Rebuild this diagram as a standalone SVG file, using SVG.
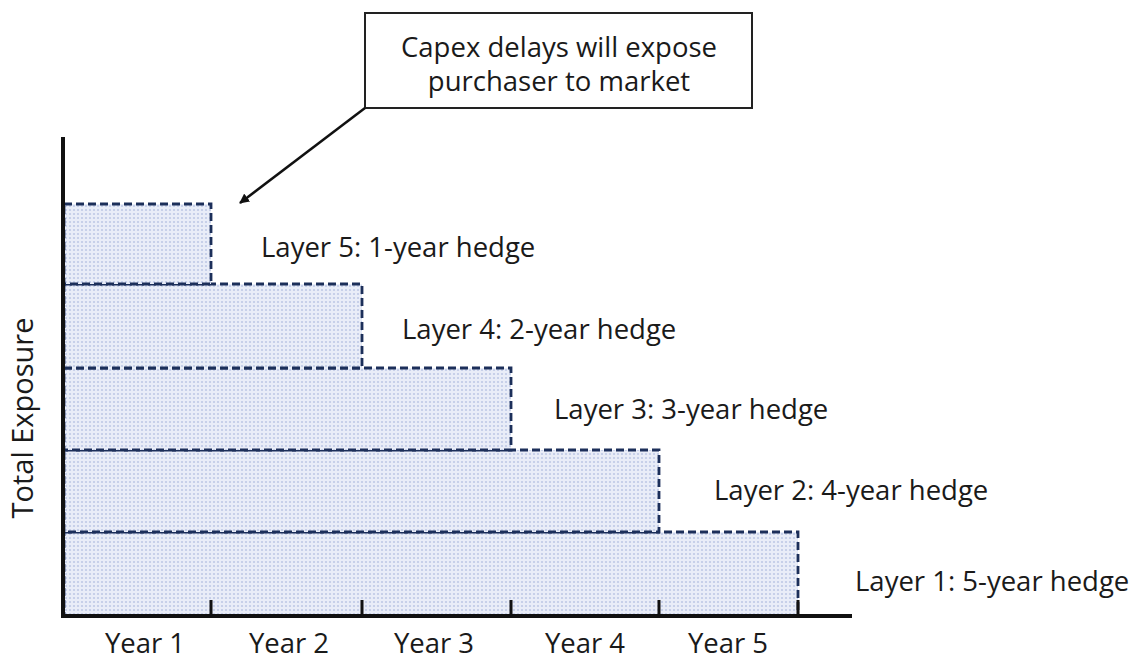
<svg xmlns="http://www.w3.org/2000/svg" width="1135" height="659" viewBox="0 0 1135 659">
<defs>
<pattern id="dots" width="4" height="4" patternUnits="userSpaceOnUse">
<rect width="4" height="4" fill="#e9edf8"/>
<circle cx="2" cy="2" r="1.1" fill="#bfc9e6"/>
</pattern>
<marker id="ah" markerWidth="10" markerHeight="10" refX="9" refY="5" orient="auto" markerUnits="userSpaceOnUse" viewBox="0 0 10 10">
<path d="M0,0 L10,5 L0,10 z" fill="#111"/>
</marker>
</defs>
<style>
.layer{fill:url(#dots);stroke:#1c2f5a;stroke-width:2.8;stroke-dasharray:8,4}
.lbl{font-family:"Open Sans","Liberation Sans",sans-serif;font-size:27.5px;fill:#1a1a1a}
.axis{stroke:#111;stroke-width:4;fill:none}
.tick{stroke:#111;stroke-width:3}
</style>
<g id="layers">
<rect id="layer1" class="layer" x="64" y="532" width="734" height="84"/>
<rect id="layer2" class="layer" x="64" y="450" width="595" height="82"/>
<rect id="layer3" class="layer" x="64" y="368" width="447" height="82"/>
<rect id="layer4" class="layer" x="64" y="284" width="298" height="84"/>
<rect id="layer5" class="layer" x="64" y="204" width="147" height="80"/>
</g>
<g id="axes">
<path class="axis" d="M63,137 V616 H852"/>
<line class="tick" x1="211" y1="600" x2="211" y2="616"/>
<line class="tick" x1="362" y1="600" x2="362" y2="616"/>
<line class="tick" x1="511" y1="600" x2="511" y2="616"/>
<line class="tick" x1="659" y1="600" x2="659" y2="616"/>
<line class="tick" x1="798" y1="600" x2="798" y2="616"/>
</g>
<g id="labels">
<text class="lbl" x="261" y="257">Layer 5: 1-year hedge</text>
<text class="lbl" x="402" y="339">Layer 4: 2-year hedge</text>
<text class="lbl" x="554" y="419">Layer 3: 3-year hedge</text>
<text class="lbl" x="714" y="500">Layer 2: 4-year hedge</text>
<text class="lbl" x="855" y="591">Layer 1: 5-year hedge</text>
</g>
<g id="years">
<text class="lbl" x="145" y="653" text-anchor="middle">Year 1</text>
<text class="lbl" x="289" y="653" text-anchor="middle">Year 2</text>
<text class="lbl" x="434" y="653" text-anchor="middle">Year 3</text>
<text class="lbl" x="585" y="653" text-anchor="middle">Year 4</text>
<text class="lbl" x="728" y="653" text-anchor="middle">Year 5</text>
</g>
<g id="ylabel">
<text class="lbl" style="font-size:29px" transform="translate(33,418) rotate(-90)" text-anchor="middle">Total Exposure</text>
</g>
<g id="callout">
<rect x="365" y="13" width="387" height="95" fill="#fff" stroke="#222" stroke-width="2"/>
<text class="lbl" x="559" y="57" text-anchor="middle">Capex delays will expose</text>
<text class="lbl" x="559" y="91" text-anchor="middle">purchaser to market</text>
</g>
<g id="connectors">
<line x1="365" y1="108" x2="240" y2="203" stroke="#111" stroke-width="2.5" marker-end="url(#ah)"/>
</g>
</svg>
